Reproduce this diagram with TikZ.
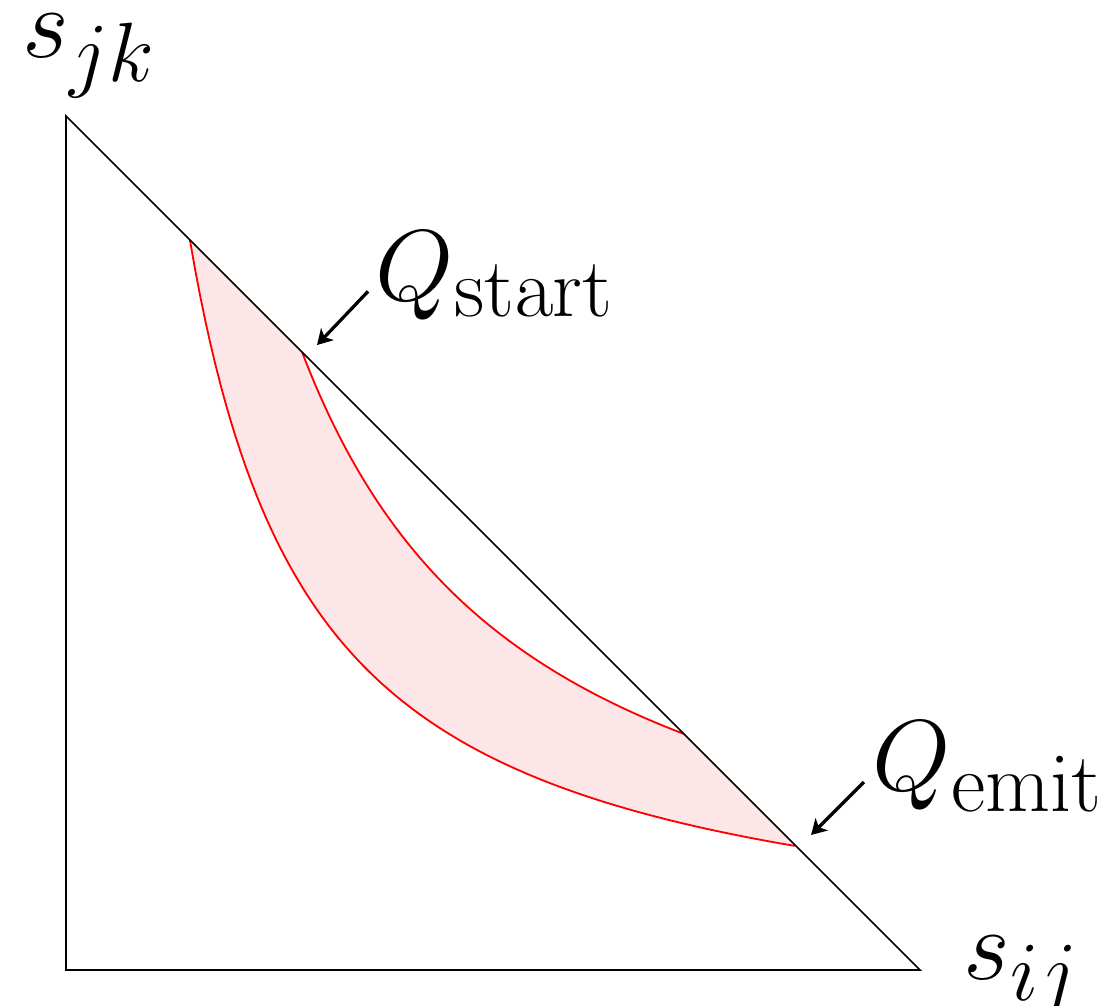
\documentclass[tikz,border=0pt]{standalone}
\usepackage{tikz}
\usetikzlibrary{arrows.meta,positioning,calc}
\definecolor{bandRed}{HTML}{ff0000}
\definecolor{bandFill}{HTML}{fde6e8}
\tikzset{
  edge/.style={draw=black, line width=0.4pt},
  band/.style={fill=bandFill},
  bound/.style={draw=bandRed, line width=0.45pt},
  lbl/.style={anchor=base west, inner sep=0pt, font=\Huge},
  pointer/.style={-{Stealth[length=1.3mm, width=1.5mm, inset=0.35mm]}, line width=0.8pt},
}

\begin{document}
\begin{tikzpicture}[x=7.4cm,y=7.4cm]
    \useasboundingbox (-0.0773,-0.041) rectangle (1.2189,1.1358);
    % corners of the phase space
    \coordinate (O) at (0,0);
    \coordinate (A) at (1,0);
    \coordinate (B) at (0,1);
    % shaded band between the two hyperbolas
    \fill[band] plot[domain=0.14504:0.85496, samples=120] (\x,{0.124/\x})
       -- plot[domain=0.72361:0.27639, samples=120] (\x,{0.2/\x}) -- cycle;
    \draw[bound] plot[domain=0.14504:0.85496, samples=120] (\x,{0.124/\x});
    \draw[bound] plot[domain=0.27639:0.72361, samples=120] (\x,{0.2/\x});
    \draw[edge] (B) -- (O) -- (A) -- cycle;
    % axis labels
    \node[lbl] (sjk) at (-0.0515,1.068) {$s_{jk}$};
    \node[lbl] (sij) at (1.050,-0.0117) {$s_{ij}$};
    % scale labels
    \coordinate (qs) at (0.2939,0.7318);
    \coordinate (qe) at (0.8724,0.1581);
    \node[lbl] (Qs) at (0.3618,0.7845) {$Q_{\mathrm{start}}$};
    \node[lbl] (Qe) at (0.9438,0.2096) {$Q_{\mathrm{emit}}$};
    \draw[pointer] ([shift={(-0.6mm,0.75mm)}]Qs.base west) -- (qs);
    \draw[pointer] ([shift={(-0.7mm,0.78mm)}]Qe.base west) -- (qe);
\end{tikzpicture}
\end{document}
